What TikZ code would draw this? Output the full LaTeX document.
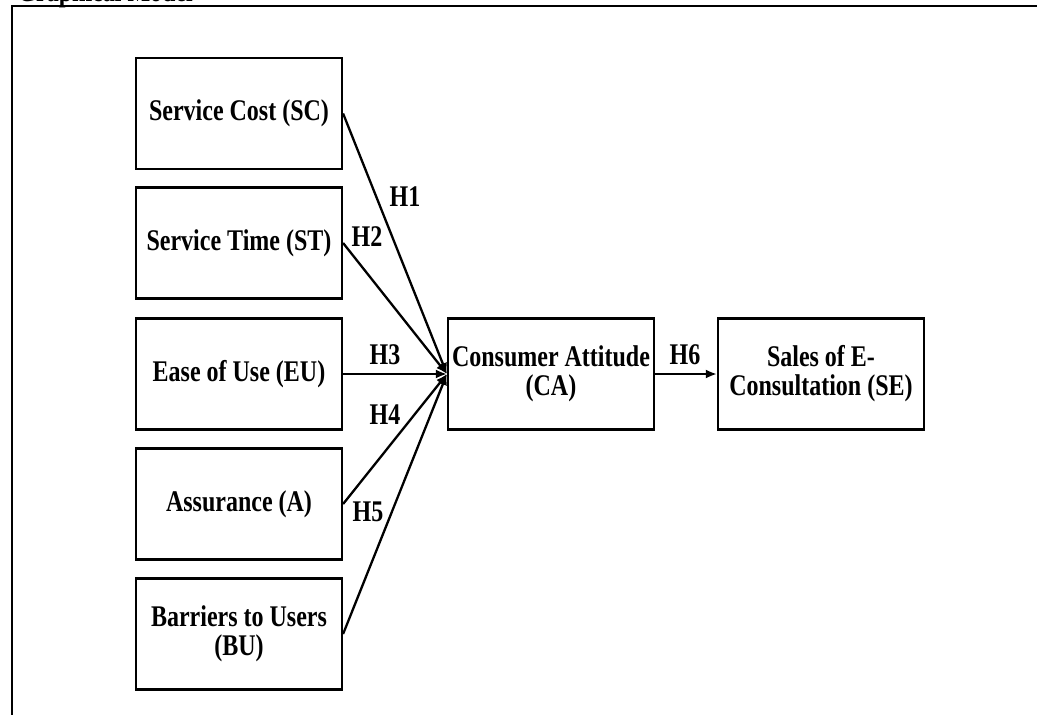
\documentclass[tikz,border=0pt]{standalone}
\usepackage{fontspec}
\newfontfamily\diagfont[FakeStretch=0.8]{Liberation Serif}
\usetikzlibrary{arrows.meta}
\tikzset{
  factor/.style={draw, line width=2.2pt, minimum width=206pt, minimum height=111pt,
    align=center, inner sep=2pt, font=\diagfont\bfseries\fontsize{30}{29}\selectfont},
  hyp/.style={font=\diagfont\bfseries\fontsize{30}{29}\selectfont},
  link/.style={line width=2.3pt, -{Latex[length=11pt,width=9pt]}}
}

\begin{document}
\begin{tikzpicture}[x=1pt,y=-1pt]
\useasboundingbox (0,0) rectangle (1037,715);
\draw[line width=2.5pt] (12,715) -- (12,6) -- (1037,6);
\path (14,1) node[anchor=base west, hyp] (title) {Graphical Model};

\path (239,113.5) node[factor] (sc) {Service Cost (SC)};
\path (239,243) node[factor] (st) {Service Time (ST)};
\path (239,374) node[factor] (eu) {Ease of Use (EU)};
\path (239,504) node[factor] (as) {Assurance (A)};
\path (239,634) node[factor] (bu) {Barriers to Users\\(BU)};
\path (551,374) node[factor] (ca) {Consumer Attitude\\(CA)};
\path (821,374) node[factor] (se) {Sales of E-\\Consultation (SE)};

\draw[link] (sc.east) to (ca.west);
\draw[link] (st.east) to (ca.west);
\draw[link] (eu.east) to (ca.west);
\draw[link] (as.east) to (ca.west);
\draw[link] (bu.east) to (ca.west);
\draw[link] (ca.east) to (se.west);

\path (405,197) node[hyp] (h1) {H1};
\path (367,237) node[hyp] (h2) {H2};
\path (385,355) node[hyp] (h3) {H3};
\path (385,415) node[hyp] (h4) {H4};
\path (368,512) node[hyp] (h5) {H5};
\path (685,355) node[hyp] (h6) {H6};

\end{tikzpicture}
\end{document}
